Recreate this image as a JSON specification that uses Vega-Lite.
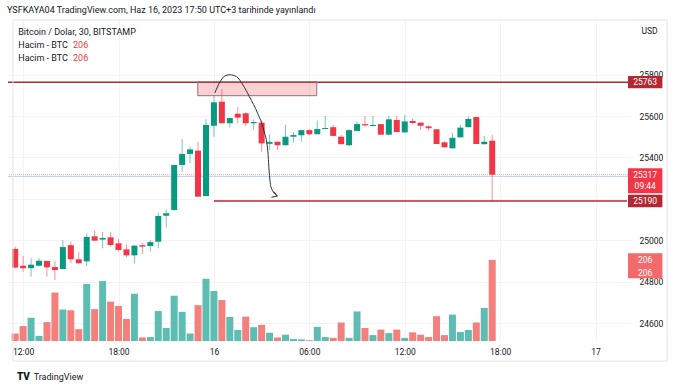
{
  "$schema": "https://vega.github.io/schema/vega-lite/v6.json",
  "width": 624,
  "height": 321,
  "autosize": {"type": "none"},
  "padding": {"left": 8, "top": 20, "right": 48, "bottom": 47},
  "background": "#ffffff",
  "config": {
    "view": {"stroke": null},
    "font": "Roboto",
    "axis": {"labelFont": "Roboto", "labelFontSize": 8.5, "labelColor": "#131722", "gridColor": "#f0f3fa", "domain": false, "ticks": false, "zindex": 0}
  },
  "title": {"text": "YSFKAYA04 TradingView.com, Haz 16, 2023 17:50 UTC+3 tarihinde yayınlandı", "anchor": "start", "frame": "group", "orient": "top", "offset": 6, "baseline": "bottom", "fontSize": 9, "fontWeight": "normal", "color": "#131722", "font": "Roboto", "dx": -1, "dy": 10},
  "datasets": {
    "candles": [
      {"t": "2023-06-15T11:30:00", "o": 24959, "h": 24970, "l": 24865, "c": 24869, "v": 19},
      {"t": "2023-06-15T12:00:00", "o": 24878, "h": 24926, "l": 24849, "c": 24866, "v": 38},
      {"t": "2023-06-15T12:30:00", "o": 24866, "h": 24914, "l": 24825, "c": 24883, "v": 59},
      {"t": "2023-06-15T13:00:00", "o": 24878, "h": 24914, "l": 24874, "c": 24902, "v": 13},
      {"t": "2023-06-15T13:30:00", "o": 24901, "h": 24901, "l": 24825, "c": 24870, "v": 48},
      {"t": "2023-06-15T14:00:00", "o": 24872, "h": 24902, "l": 24809, "c": 24857, "v": 123},
      {"t": "2023-06-15T14:30:00", "o": 24862, "h": 25002, "l": 24862, "c": 24968, "v": 80},
      {"t": "2023-06-15T15:00:00", "o": 24977, "h": 24994, "l": 24890, "c": 24909, "v": 78},
      {"t": "2023-06-15T15:30:00", "o": 24909, "h": 24946, "l": 24886, "c": 24890, "v": 30},
      {"t": "2023-06-15T16:00:00", "o": 24899, "h": 25034, "l": 24877, "c": 25017, "v": 145},
      {"t": "2023-06-15T16:30:00", "o": 25020, "h": 25047, "l": 24996, "c": 24999, "v": 81},
      {"t": "2023-06-15T17:00:00", "o": 25004, "h": 25041, "l": 24962, "c": 25012, "v": 152},
      {"t": "2023-06-15T17:30:00", "o": 25015, "h": 25041, "l": 24970, "c": 24978, "v": 100},
      {"t": "2023-06-15T18:00:00", "o": 24986, "h": 25007, "l": 24946, "c": 24954, "v": 89},
      {"t": "2023-06-15T18:30:00", "o": 24957, "h": 24981, "l": 24919, "c": 24928, "v": 56},
      {"t": "2023-06-15T19:00:00", "o": 24928, "h": 24975, "l": 24890, "c": 24975, "v": 120},
      {"t": "2023-06-15T19:30:00", "o": 24977, "h": 24989, "l": 24933, "c": 24970, "v": 9},
      {"t": "2023-06-15T20:00:00", "o": 24973, "h": 25002, "l": 24946, "c": 24992, "v": 10},
      {"t": "2023-06-15T20:30:00", "o": 24994, "h": 25134, "l": 24962, "c": 25118, "v": 76},
      {"t": "2023-06-15T21:00:00", "o": 25119, "h": 25150, "l": 25063, "c": 25131, "v": 33},
      {"t": "2023-06-15T21:30:00", "o": 25147, "h": 25364, "l": 25142, "c": 25364, "v": 115},
      {"t": "2023-06-15T22:00:00", "o": 25364, "h": 25488, "l": 25331, "c": 25417, "v": 74},
      {"t": "2023-06-15T22:30:00", "o": 25417, "h": 25452, "l": 25372, "c": 25439, "v": 19},
      {"t": "2023-06-15T23:00:00", "o": 25433, "h": 25475, "l": 25211, "c": 25211, "v": 91},
      {"t": "2023-06-15T23:30:00", "o": 25214, "h": 25584, "l": 25214, "c": 25557, "v": 158},
      {"t": "2023-06-16T00:00:00", "o": 25553, "h": 25701, "l": 25500, "c": 25666, "v": 127},
      {"t": "2023-06-16T00:30:00", "o": 25669, "h": 25729, "l": 25565, "c": 25565, "v": 104},
      {"t": "2023-06-16T01:00:00", "o": 25565, "h": 25590, "l": 25544, "c": 25590, "v": 61},
      {"t": "2023-06-16T01:30:00", "o": 25611, "h": 25642, "l": 25565, "c": 25592, "v": 28},
      {"t": "2023-06-16T02:00:00", "o": 25613, "h": 25618, "l": 25553, "c": 25565, "v": 62},
      {"t": "2023-06-16T02:30:00", "o": 25565, "h": 25584, "l": 25533, "c": 25571, "v": 35},
      {"t": "2023-06-16T03:00:00", "o": 25568, "h": 25581, "l": 25428, "c": 25468, "v": 41},
      {"t": "2023-06-16T03:30:00", "o": 25466, "h": 25512, "l": 25436, "c": 25475, "v": 21},
      {"t": "2023-06-16T04:00:00", "o": 25476, "h": 25476, "l": 25436, "c": 25459, "v": 9},
      {"t": "2023-06-16T04:30:00", "o": 25459, "h": 25557, "l": 25459, "c": 25500, "v": 16},
      {"t": "2023-06-16T05:00:00", "o": 25500, "h": 25523, "l": 25471, "c": 25508, "v": 5},
      {"t": "2023-06-16T05:30:00", "o": 25507, "h": 25532, "l": 25476, "c": 25532, "v": 4},
      {"t": "2023-06-16T06:00:00", "o": 25532, "h": 25536, "l": 25507, "c": 25512, "v": 2},
      {"t": "2023-06-16T06:30:00", "o": 25512, "h": 25577, "l": 25512, "c": 25537, "v": 36},
      {"t": "2023-06-16T07:00:00", "o": 25537, "h": 25600, "l": 25537, "c": 25542, "v": 10},
      {"t": "2023-06-16T07:30:00", "o": 25546, "h": 25557, "l": 25504, "c": 25504, "v": 8},
      {"t": "2023-06-16T08:00:00", "o": 25500, "h": 25508, "l": 25464, "c": 25464, "v": 47},
      {"t": "2023-06-16T08:30:00", "o": 25459, "h": 25536, "l": 25455, "c": 25532, "v": 8},
      {"t": "2023-06-16T09:00:00", "o": 25528, "h": 25573, "l": 25528, "c": 25561, "v": 75},
      {"t": "2023-06-16T09:30:00", "o": 25561, "h": 25600, "l": 25548, "c": 25555, "v": 33},
      {"t": "2023-06-16T10:00:00", "o": 25552, "h": 25601, "l": 25548, "c": 25557, "v": 15},
      {"t": "2023-06-16T10:30:00", "o": 25561, "h": 25561, "l": 25510, "c": 25510, "v": 29},
      {"t": "2023-06-16T11:00:00", "o": 25510, "h": 25600, "l": 25510, "c": 25584, "v": 20},
      {"t": "2023-06-16T11:30:00", "o": 25581, "h": 25601, "l": 25523, "c": 25523, "v": 29},
      {"t": "2023-06-16T12:00:00", "o": 25521, "h": 25605, "l": 25521, "c": 25574, "v": 8},
      {"t": "2023-06-16T12:30:00", "o": 25576, "h": 25589, "l": 25561, "c": 25566, "v": 22},
      {"t": "2023-06-16T13:00:00", "o": 25568, "h": 25568, "l": 25533, "c": 25553, "v": 16},
      {"t": "2023-06-16T13:30:00", "o": 25550, "h": 25555, "l": 25529, "c": 25541, "v": 10},
      {"t": "2023-06-16T14:00:00", "o": 25536, "h": 25536, "l": 25465, "c": 25465, "v": 63},
      {"t": "2023-06-16T14:30:00", "o": 25473, "h": 25478, "l": 25449, "c": 25449, "v": 15},
      {"t": "2023-06-16T15:00:00", "o": 25444, "h": 25518, "l": 25444, "c": 25495, "v": 67},
      {"t": "2023-06-16T15:30:00", "o": 25497, "h": 25557, "l": 25497, "c": 25544, "v": 23},
      {"t": "2023-06-16T16:00:00", "o": 25546, "h": 25597, "l": 25546, "c": 25586, "v": 28},
      {"t": "2023-06-16T16:30:00", "o": 25595, "h": 25595, "l": 25465, "c": 25465, "v": 47},
      {"t": "2023-06-16T17:00:00", "o": 25464, "h": 25504, "l": 25464, "c": 25476, "v": 84},
      {"t": "2023-06-16T17:30:00", "o": 25481, "h": 25510, "l": 25190, "c": 25317, "v": 206}
    ],
    "arrow": [
      {"t": "2023-06-16T00:04:00", "p": 25712},
      {"t": "2023-06-16T00:23:00", "p": 25765},
      {"t": "2023-06-16T00:41:00", "p": 25793},
      {"t": "2023-06-16T01:00:00", "p": 25799},
      {"t": "2023-06-16T01:25:00", "p": 25790},
      {"t": "2023-06-16T01:50:00", "p": 25749},
      {"t": "2023-06-16T02:14:00", "p": 25693},
      {"t": "2023-06-16T02:45:00", "p": 25613},
      {"t": "2023-06-16T03:08:00", "p": 25532},
      {"t": "2023-06-16T03:23:00", "p": 25436},
      {"t": "2023-06-16T03:28:00", "p": 25340},
      {"t": "2023-06-16T03:35:00", "p": 25259},
      {"t": "2023-06-16T03:59:00", "p": 25214}
    ],
    "arrowhead": [
      {"i": 0, "t": "2023-06-16T03:47:00", "p": 25235},
      {"i": 1, "t": "2023-06-16T03:59:00", "p": 25214},
      {"i": 2, "t": "2023-06-16T03:37:00", "p": 25208}
    ]
  },
  "layer": [
    {
      "layer": [
        {
          "data": {"name": "candles"},
          "transform": [{"window": [{"op": "lag", "field": "c", "as": "pc"}], "sort": [{"field": "t"}]}],
          "mark": {"type": "bar", "size": 7, "clip": true},
          "encoding": {
            "x": {"field": "t", "type": "temporal", "title": null,
              "scale": {"domain": [{"year": 2023, "month": 6, "date": 15, "hours": 11, "minutes": 21, "seconds": 50}, {"year": 2023, "month": 6, "date": 17, "hours": 1, "minutes": 58, "seconds": 40}]},
              "axis": {"orient": "bottom", "title": null, "grid": true, "labelPadding": 6, "labelFontSize": 8.5,
                "values": [
                  {"year": 2023, "month": 6, "date": 15, "hours": 12},
                  {"year": 2023, "month": 6, "date": 15, "hours": 18},
                  {"year": 2023, "month": 6, "date": 16, "hours": 0},
                  {"year": 2023, "month": 6, "date": 16, "hours": 6},
                  {"year": 2023, "month": 6, "date": 16, "hours": 12},
                  {"year": 2023, "month": 6, "date": 16, "hours": 18},
                  {"year": 2023, "month": 6, "date": 17, "hours": 0}
                ],
                "labelExpr": "hours(datum.value) == 0 ? '' + date(datum.value) : timeFormat(datum.value, '%H:%M')"}},
            "y": {"field": "v", "type": "quantitative", "scale": {"domain": [0, 815], "zero": false}, "axis": null},
            "color": {"condition": {"test": "datum.pc != null && datum.c >= datum.pc", "value": "#5dbdb2"}, "value": "#f3807d"}
          }
        },
        {
          "data": {"values": [{"k": 1}]},
          "mark": {"type": "point", "shape": "M-1,-0.727H1V0.727H-1Z", "size": 1183, "filled": true, "color": "#f36a6a", "opacity": 1, "clip": false},
          "encoding": {
            "x": {"datum": {"year": 2023, "month": 6, "date": 17, "hours": 3, "minutes": 7, "seconds": 20}, "type": "temporal"},
            "y": {"datum": 191, "type": "quantitative", "scale": {"domain": [0, 815], "zero": false}}
          }
        },
        {
          "data": {"values": [{"s": "206", "v": 205}, {"s": "206", "v": 173}]},
          "mark": {"type": "text", "color": "#ffffff", "fontSize": 8.5, "align": "center", "baseline": "middle", "clip": false},
          "encoding": {
            "x": {"datum": {"year": 2023, "month": 6, "date": 17, "hours": 3, "minutes": 7, "seconds": 20}, "type": "temporal"},
            "y": {"field": "v", "type": "quantitative", "scale": {"domain": [0, 815], "zero": false}},
            "text": {"field": "s"}
          }
        }
      ]
    },
    {
      "layer": [
        {
          "data": {"values": [{"k": 1}]},
          "mark": {"type": "rule", "color": "#f7a8ae", "strokeDash": [1, 1], "strokeWidth": 1},
          "encoding": {"y": {"datum": 25317, "type": "quantitative", "scale": {"domain": [24515, 26063], "zero": false}}}
        },
        {
          "data": {"values": [{"k": 1}]},
          "mark": {"type": "rule", "color": "#bccdf2", "strokeWidth": 1},
          "encoding": {"y": {"datum": 25309, "type": "quantitative", "scale": {"domain": [24515, 26063], "zero": false}}}
        },
        {
          "data": {"name": "candles"},
          "mark": {"type": "rule", "strokeWidth": 1, "opacity": 0.55, "clip": true},
          "encoding": {
            "x": {"field": "t", "type": "temporal", "title": null},
            "y": {"field": "l", "type": "quantitative", "scale": {"domain": [24515, 26063], "zero": false},
              "axis": {"orient": "right", "grid": true, "labelPadding": 7, "labelFontSize": 8.5,
                "values": [24600, 24800, 25000, 25200, 25400, 25600, 25800],
                "labelExpr": "datum.value == 25200 ? '' : datum.label", "format": "d",
                "title": "USD", "titleAngle": 0, "titleX": 17, "titleY": 10, "titleAlign": "center", "titleBaseline": "middle", "titleFontSize": 8.5, "titleFontWeight": "normal", "titleColor": "#131722", "titleFont": "Roboto"}},
            "y2": {"field": "h"},
            "color": {"condition": {"test": "datum.c >= datum.o", "value": "#089981"}, "value": "#f23645"}
          }
        },
        {
          "data": {"name": "candles"},
          "mark": {"type": "bar", "size": 6, "clip": true},
          "encoding": {
            "x": {"field": "t", "type": "temporal", "title": null},
            "y": {"field": "o", "type": "quantitative", "title": "USD", "scale": {"domain": [24515, 26063], "zero": false}},
            "y2": {"field": "c"},
            "color": {"condition": {"test": "datum.c >= datum.o", "value": "#089981"}, "value": "#f23645"}
          }
        },
        {
          "data": {"values": [{"k": 1}]},
          "mark": {"type": "rule", "color": "#b22833", "strokeWidth": 1.5},
          "encoding": {"y": {"datum": 25763, "type": "quantitative", "scale": {"domain": [24515, 26063], "zero": false}}}
        },
        {
          "data": {"values": [{"k": 1}]},
          "mark": {"type": "rule", "color": "#b22833", "strokeWidth": 1.5},
          "encoding": {
            "x": {"datum": {"year": 2023, "month": 6, "date": 16, "hours": 0}, "type": "temporal"},
            "x2": {"datum": {"year": 2023, "month": 6, "date": 17, "hours": 1, "minutes": 58, "seconds": 40}},
            "y": {"datum": 25190, "type": "quantitative", "scale": {"domain": [24515, 26063], "zero": false}}
          }
        },
        {
          "data": {"values": [{"k": 1}]},
          "mark": {"type": "rect", "fill": "#f23645", "fillOpacity": 0.24, "stroke": "#8f7777", "strokeWidth": 1},
          "encoding": {
            "x": {"datum": {"year": 2023, "month": 6, "date": 15, "hours": 22, "minutes": 59}, "type": "temporal"},
            "x2": {"datum": {"year": 2023, "month": 6, "date": 16, "hours": 6, "minutes": 28}},
            "y": {"datum": 25765, "type": "quantitative", "scale": {"domain": [24515, 26063], "zero": false}},
            "y2": {"datum": 25698}
          }
        },
        {
          "data": {"name": "arrow"},
          "mark": {"type": "line", "color": "#2a2e39", "strokeWidth": 1, "interpolate": "monotone"},
          "encoding": {
            "x": {"field": "t", "type": "temporal", "title": null},
            "y": {"field": "p", "type": "quantitative", "title": "USD", "scale": {"domain": [24515, 26063], "zero": false}}
          }
        },
        {
          "data": {"name": "arrowhead"},
          "mark": {"type": "line", "color": "#2a2e39", "strokeWidth": 1},
          "encoding": {
            "x": {"field": "t", "type": "temporal", "title": null},
            "y": {"field": "p", "type": "quantitative", "title": "USD", "scale": {"domain": [24515, 26063], "zero": false}},
            "order": {"field": "i"}
          }
        },
        {
          "data": {"values": [{"p": 25763}, {"p": 25190}]},
          "mark": {"type": "point", "shape": "M-1,-0.358H1V0.358H-1Z", "size": 1183, "filled": true, "color": "#b22833", "opacity": 1, "clip": false},
          "encoding": {
            "x": {"datum": {"year": 2023, "month": 6, "date": 17, "hours": 3, "minutes": 7, "seconds": 20}, "type": "temporal"},
            "y": {"field": "p", "type": "quantitative", "title": "USD", "scale": {"domain": [24515, 26063], "zero": false}}
          }
        },
        {
          "data": {"values": [{"k": 1}]},
          "mark": {"type": "point", "shape": "M-1,-0.727H1V0.727H-1Z", "size": 1183, "filled": true, "color": "#f23645", "opacity": 1, "clip": false},
          "encoding": {
            "x": {"datum": {"year": 2023, "month": 6, "date": 17, "hours": 3, "minutes": 7, "seconds": 20}, "type": "temporal"},
            "y": {"datum": 25288, "type": "quantitative", "scale": {"domain": [24515, 26063], "zero": false}}
          }
        },
        {
          "data": {"values": [{"s": "25763", "p": 25763}, {"s": "25190", "p": 25190}, {"s": "25317", "p": 25317}, {"s": "09:44", "p": 25264}]},
          "mark": {"type": "text", "color": "#ffffff", "fontSize": 8.5, "align": "center", "baseline": "middle", "clip": false},
          "encoding": {
            "x": {"datum": {"year": 2023, "month": 6, "date": 17, "hours": 3, "minutes": 7, "seconds": 20}, "type": "temporal"},
            "y": {"field": "p", "type": "quantitative", "title": "USD", "scale": {"domain": [24515, 26063], "zero": false}},
            "text": {"field": "s"}
          }
        },
        {
          "data": {"values": [{"s": "Bitcoin / Dolar, 30, BITSTAMP"}]},
          "mark": {"type": "text", "color": "#131722", "fontSize": 9, "align": "left", "baseline": "middle"},
          "encoding": {
            "x": {"datum": {"year": 2023, "month": 6, "date": 15, "hours": 11, "minutes": 41, "seconds": 30}, "type": "temporal"},
            "y": {"datum": 26004, "type": "quantitative", "scale": {"domain": [24515, 26063], "zero": false}},
            "text": {"field": "s"}
          }
        },
        {
          "data": {"values": [{"s": "Hacim - BTC"}]},
          "mark": {"type": "text", "color": "#131722", "fontSize": 9, "align": "left", "baseline": "middle"},
          "encoding": {
            "x": {"datum": {"year": 2023, "month": 6, "date": 15, "hours": 11, "minutes": 41, "seconds": 30}, "type": "temporal"},
            "y": {"datum": 25944, "type": "quantitative", "scale": {"domain": [24515, 26063], "zero": false}},
            "text": {"field": "s"}
          }
        },
        {
          "data": {"values": [{"s": "Hacim - BTC"}]},
          "mark": {"type": "text", "color": "#131722", "fontSize": 9, "align": "left", "baseline": "middle"},
          "encoding": {
            "x": {"datum": {"year": 2023, "month": 6, "date": 15, "hours": 11, "minutes": 41, "seconds": 30}, "type": "temporal"},
            "y": {"datum": 25881, "type": "quantitative", "scale": {"domain": [24515, 26063], "zero": false}},
            "text": {"field": "s"}
          }
        },
        {
          "data": {"values": [{"s": "206"}]},
          "mark": {"type": "text", "color": "#f23645", "fontSize": 9, "align": "left", "baseline": "middle"},
          "encoding": {
            "x": {"datum": {"year": 2023, "month": 6, "date": 15, "hours": 15, "minutes": 8, "seconds": 20}, "type": "temporal"},
            "y": {"datum": 25944, "type": "quantitative", "scale": {"domain": [24515, 26063], "zero": false}},
            "text": {"field": "s"}
          }
        },
        {
          "data": {"values": [{"s": "206"}]},
          "mark": {"type": "text", "color": "#f23645", "fontSize": 9, "align": "left", "baseline": "middle"},
          "encoding": {
            "x": {"datum": {"year": 2023, "month": 6, "date": 15, "hours": 15, "minutes": 8, "seconds": 20}, "type": "temporal"},
            "y": {"datum": 25881, "type": "quantitative", "scale": {"domain": [24515, 26063], "zero": false}},
            "text": {"field": "s"}
          }
        },
        {
          "data": {"values": [{"s": "TradingView"}]},
          "mark": {"type": "text", "color": "#131722", "fontSize": 9, "align": "left", "baseline": "middle", "clip": false},
          "encoding": {
            "x": {"datum": {"year": 2023, "month": 6, "date": 15, "hours": 12, "minutes": 39, "seconds": 50}, "type": "temporal"},
            "y": {"datum": 24341, "type": "quantitative", "scale": {"domain": [24515, 26063], "zero": false}},
            "text": {"field": "s"}
          }
        },
        {
          "data": {"values": [{"s": "TV"}]},
          "mark": {"type": "text", "color": "#131722", "fontSize": 10, "fontWeight": 900, "align": "left", "baseline": "middle", "clip": false},
          "encoding": {
            "x": {"datum": {"year": 2023, "month": 6, "date": 15, "hours": 11, "minutes": 36, "seconds": 40}, "type": "temporal"},
            "y": {"datum": 24341, "type": "quantitative", "scale": {"domain": [24515, 26063], "zero": false}},
            "text": {"field": "s"}
          }
        },
        {
          "data": {"values": [{"k": 1}]},
          "mark": {"type": "rect", "fill": null, "fillOpacity": 0, "stroke": "#e0e3eb", "strokeWidth": 1, "clip": false},
          "encoding": {
            "x": {"datum": {"year": 2023, "month": 6, "date": 15, "hours": 11, "minutes": 21, "seconds": 50}, "type": "temporal"},
            "x2": {"datum": {"year": 2023, "month": 6, "date": 17, "hours": 4, "minutes": 30}},
            "y": {"datum": 26063, "type": "quantitative", "scale": {"domain": [24515, 26063], "zero": false}},
            "y2": {"datum": 24418}
          }
        }
      ]
    }
  ],
  "resolve": {"scale": {"y": "independent"}, "axis": {"y": "independent"}}
}
